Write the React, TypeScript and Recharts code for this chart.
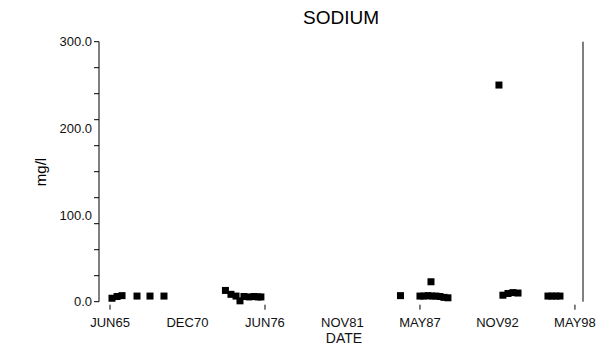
import { ScatterChart, Scatter, XAxis, YAxis, ReferenceLine } from "recharts";

// sample dates as decimal years, sodium in mg/l
const dates = [
  1965.56, 1965.92, 1966.27, 1967.33, 1968.25, 1969.24,
  1973.59, 1973.98, 1974.34, 1974.62, 1974.9, 1975.26, 1975.61, 1975.89, 1976.1,
  1985.98, 1987.36, 1987.64, 1987.93, 1988.14, 1988.2, 1988.49, 1988.77, 1989.06, 1989.34,
  1992.95, 1993.23, 1993.59, 1993.94, 1994.3,
  1996.42, 1996.7, 1996.99, 1997.27,
];
const sodium = [
  4, 6, 7, 6.5, 6.5, 6.5,
  13, 8.5, 6.5, 1, 6, 5.5, 6, 5.5, 5.5,
  7, 6.5, 6.5, 7, 23, 6.5, 6.5, 6, 5, 4.5,
  250, 7.5, 9.5, 10.5, 10,
  6.5, 6.5, 6.5, 6.5,
];

const xTicks = [1965.42, 1970.9, 1976.39, 1981.87, 1987.36, 1992.85, 1998.33];
const xLabels = ["JUN65", "DEC70", "JUN76", "NOV81", "MAY87", "NOV92", "MAY98"];
const xMin = 1964.64;
const xMax = 1998.9;

const yTicks = [0, 30, 60, 90, 100, 120, 150, 180, 200, 210, 240, 270, 300];

const data = dates.map((d, i) => ({ date: d, value: sodium[i] }));

const font = "'Liberation Sans', Arial, sans-serif";

const XTick = (props: any) => {
  const { x, y, payload, index } = props;
  return (
    <g>
      {index % 2 === 0 && <line x1={x} x2={x} y1={y + 3} y2={y + 8} stroke="#000" />}
      <text x={x} y={y + 25} textAnchor="middle" fontSize={13} fontFamily={font} fill="#111">
        {xLabels[xTicks.indexOf(payload.value)]}
      </text>
    </g>
  );
};

const YTick = (props: any) => {
  const { x, y, payload } = props;
  const v = payload.value;
  return (
    <g>
      {v % 30 === 0 && <line x1={x - 5} x2={x} y1={y} y2={y} stroke="#000" />}
      {v % 100 === 0 && (
        <text x={x - 7} y={y + 4.5} textAnchor="end" fontSize={13} fontFamily={font} fill="#111">
          {v.toFixed(1)}
        </text>
      )}
    </g>
  );
};

const Square = (props: any) => (
  <rect x={props.cx - 3.5} y={props.cy - 3.5} width={7} height={7} fill="#000" />
);

export default function App() {
  return (
    <div style={{ position: "absolute", left: 0, top: 0, width: 608, height: 352, background: "#fff", fontFamily: font }}>
      <ScatterChart width={608} height={352} margin={{ top: 41.7, right: 25, bottom: 0, left: 0 }}>
        <XAxis
          dataKey="date"
          type="number"
          domain={[xMin, xMax]}
          ticks={xTicks}
          interval={0}
          axisLine={false}
          tickLine={false}
          tickSize={0}
          tickMargin={0}
          height={50.3}
          tick={<XTick />}
        />
        <YAxis
          dataKey="value"
          type="number"
          domain={[0, 300]}
          ticks={yTicks}
          interval={0}
          width={99}
          axisLine={{ stroke: "#000" }}
          tickLine={false}
          tickSize={0}
          tickMargin={0}
          tick={<YTick />}
        />
        <ReferenceLine x={xMax} stroke="#000" />
        <Scatter data={data} shape={<Square />} isAnimationActive={false} />
      </ScatterChart>
      <div style={{ position: "absolute", left: 241, width: 200, top: 7, textAlign: "center", fontSize: 19, color: "#000" }}>
        SODIUM
      </div>
      <div style={{ position: "absolute", left: 244, width: 200, top: 330, textAlign: "center", fontSize: 14, color: "#111" }}>
        DATE
      </div>
      <div
        style={{
          position: "absolute",
          left: 40,
          top: 172,
          transform: "translate(-50%, -50%) rotate(-90deg)",
          fontSize: 15,
          color: "#000",
          whiteSpace: "nowrap",
        }}
      >
        mg/l
      </div>
    </div>
  );
}
